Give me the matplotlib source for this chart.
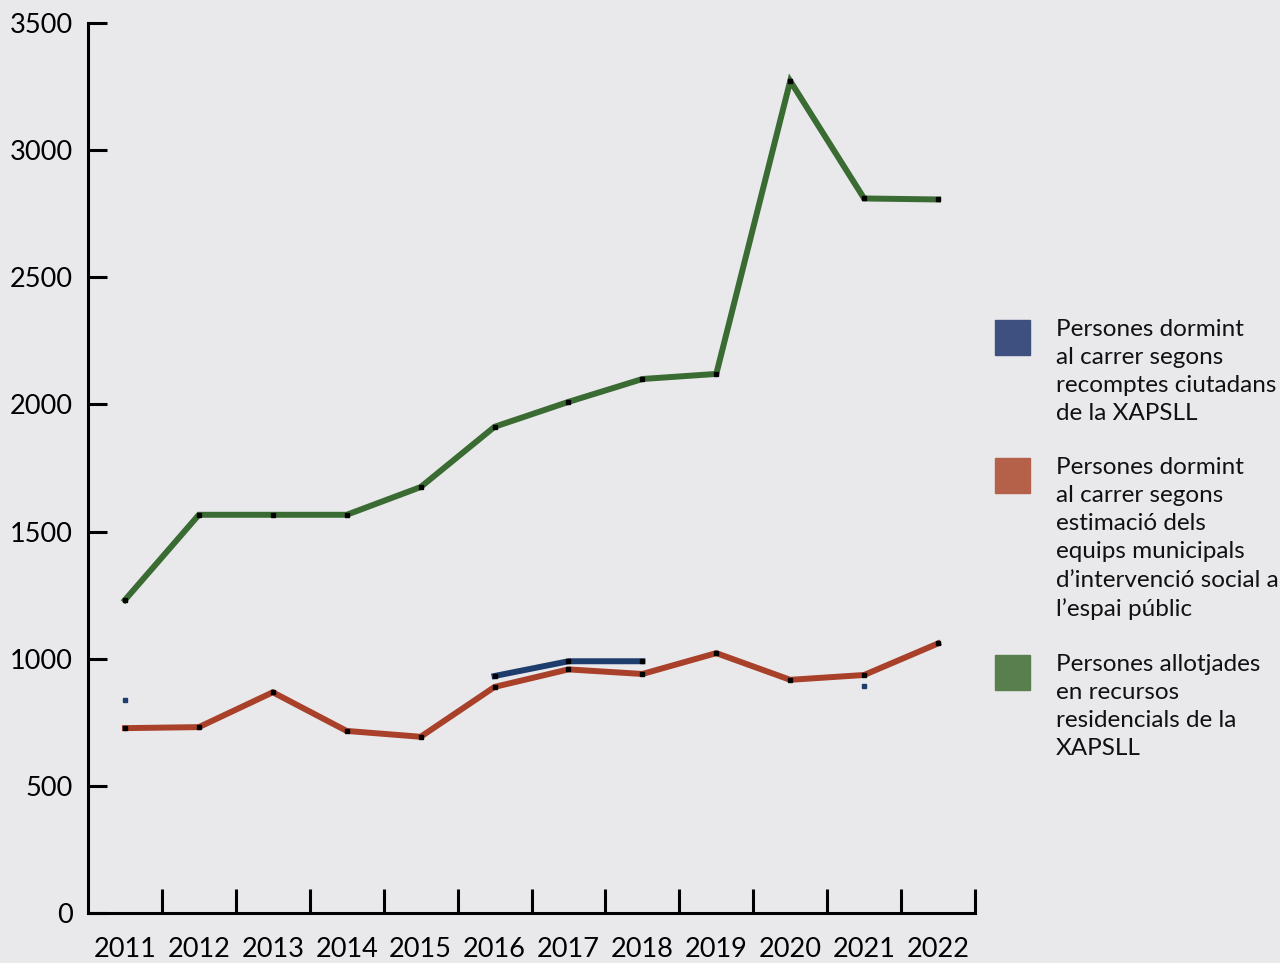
import numpy as np
import matplotlib.pyplot as plt
from matplotlib.patches import Rectangle

plt.rcParams['font.family'] = ['Lato', 'DejaVu Sans']

years = np.arange(2011, 2023)
# recomptes ciutadans (only some years available)
blue_years = [2011, 2016, 2017, 2018, 2021]
blue_vals = [838, 932, 990, 990, 893]
red_vals = [727, 731, 868, 716, 693, 889, 958, 940, 1022, 917, 936, 1060]
green_vals = [1231, 1566, 1566, 1566, 1675, 1912, 2010, 2100, 2120, 3272, 2810, 2806]

labels = ["Persones dormint\nal carrer segons\nrecomptes ciutadans\nde la XAPSLL",
          "Persones dormint\nal carrer segons\nestimació dels\nequips municipals\nd’intervenció social a\nl’espai públic",
          "Persones allotjades\nen recursos\nresidencials de la\nXAPSLL"]
line_colors = ['#1d3d6c', '#a8402a', '#3a6b32']
patch_colors = ['#3d5080', '#b5614a', '#5a7f4f']
bg = '#e9e9ec'

fig = plt.figure(figsize=(12.8, 9.63), dpi=100, facecolor=bg)
ax = fig.add_axes([88/1280, 50/963, (975-88)/1280, (913-23)/963])
ax.set_facecolor(bg)

ax.plot(years, green_vals, color=line_colors[2], lw=4.3, solid_joinstyle='miter', zorder=3)
ax.plot(years, red_vals, color=line_colors[1], lw=4.3, solid_joinstyle='miter', zorder=3)
ax.plot(blue_years[1:4], blue_vals[1:4], color=line_colors[0], lw=4.3, zorder=3)
ax.plot([blue_years[0], blue_years[4]], [blue_vals[0], blue_vals[4]], ls='none',
        marker='s', ms=3.5, color=line_colors[0], zorder=4)
ax.plot(years, green_vals, ls='none', marker='s', ms=3.5, color='black', zorder=5)
ax.plot(years, red_vals, ls='none', marker='s', ms=3.5, color='black', zorder=5)
ax.plot(blue_years[1:4], blue_vals[1:4], ls='none', marker='s', ms=3.5, color='black', zorder=5)

ax.set_xlim(2010.5, 2022.5)
ax.set_ylim(0, 3500)
ax.set_yticks(np.arange(0, 3501, 500))
ax.set_xticks(years)
ax.set_xticks(np.arange(2011.5, 2023, 1), minor=True)
ax.tick_params(axis='y', direction='in', length=14, width=2.2, labelsize=19.5, pad=11, colors='black')
ax.tick_params(axis='x', which='major', length=0, labelsize=19.5, pad=17)
ax.tick_params(axis='x', which='minor', direction='in', length=17, width=2.2)
for s in ['top', 'right']:
    ax.spines[s].set_visible(False)
for s in ['left', 'bottom']:
    ax.spines[s].set_linewidth(2.2)

# legend drawn by hand
tops = [320, 458, 655]
for lab, c, t in zip(labels, patch_colors, tops):
    fig.add_artist(Rectangle((995/1280, 1 - (t + 35)/963), 35/1280, 35/963,
                             transform=fig.transFigure, color=c))
    fig.text(1056/1280, 1 - (t - 1)/963, lab, fontsize=17.5, va='top', ha='left',
             linespacing=1.42, color='#111111')

fig.savefig('out.png', dpi=100, facecolor=bg)
